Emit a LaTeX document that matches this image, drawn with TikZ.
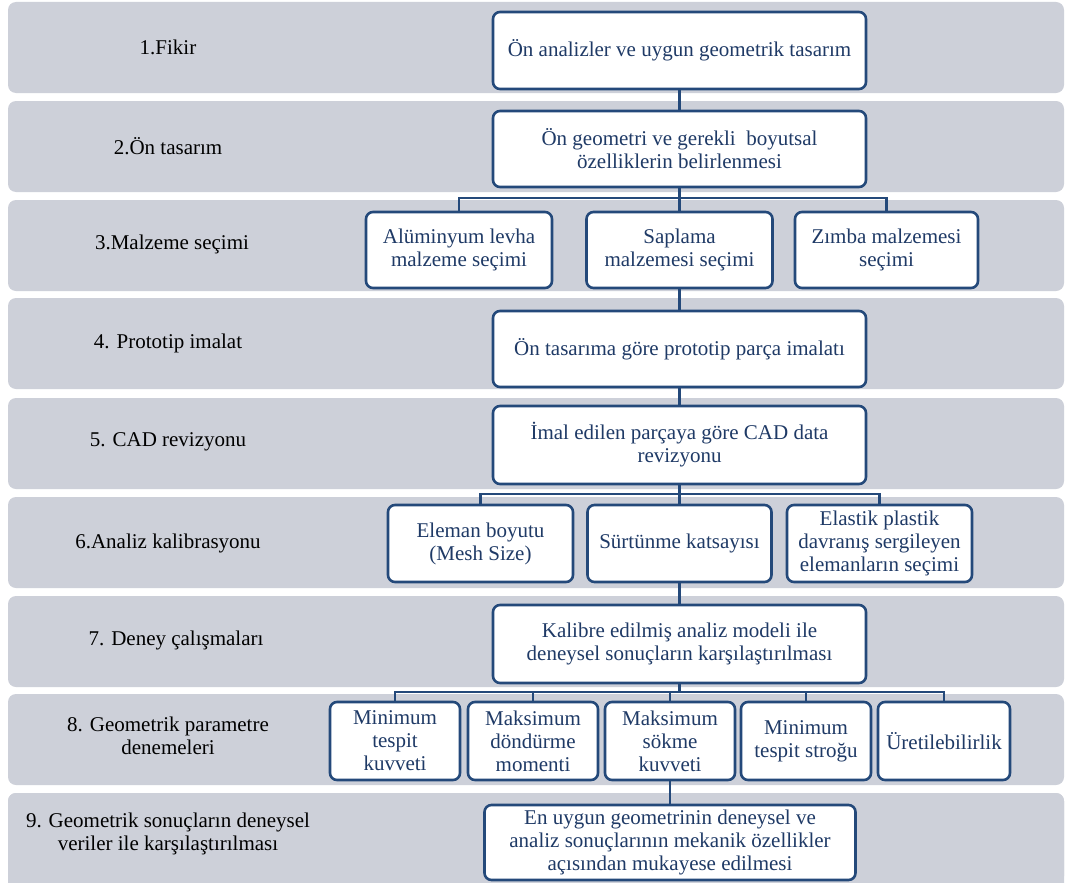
\documentclass[tikz,border=0pt]{standalone}
\usepackage{fontspec}
\setmainfont{Liberation Serif}
\definecolor{bandgray}{HTML}{CDD0D9}
\definecolor{boxblue}{HTML}{24497A}
\definecolor{boxtext}{HTML}{1F3A66}
\tikzset{
  band/.style={fill=bandgray, rounded corners=8pt},
  stage/.style={font=\fontsize{21}{23}\selectfont, align=center, text=black},
  boxnode/.style={draw=boxblue, line width=2.6pt, fill=white, rounded corners=7pt,
    align=center, text=boxtext, inner sep=0pt, font=\fontsize{21}{23}\selectfont},
  link/.style={draw=boxblue, line width=2.6pt},
}
\begin{document}
\begin{tikzpicture}[x=1pt, y=-1pt]
    \clip (0,0) rectangle (1065,883);
    \fill[white] (0,0) rectangle (1065,883);

    % stage bands
    \foreach \top in {2,101,200,298,398,497,596,694,793}
      \path[band] (8,\top) rectangle (1064,\top+91);
    \path[band] (8,793) rectangle (1064,900);

    % stage names
    \node[stage] (s1) at (168,47) {1.Fikir};
    \node[stage] (s2) at (168,146) {2.Ön tasarım};
    \node[stage] (s3) at (172,244) {3.Malzeme seçimi};
    \node[stage] (s4) at (168,343) {4. Prototip imalat};
    \node[stage] (s5) at (168,442) {5. CAD revizyonu};
    \node[stage] (s6) at (168,543) {6.Analiz kalibrasyonu};
    \node[stage] (s7) at (176,640) {7. Deney çalışmaları};
    \node[stage] (s8) at (168,736) {8. Geometrik parametre\\denemeleri};
    \node[stage] (s9) at (168,834) {9. Geometrik sonuçların deneysel\\veriler ile karşılaştırılması};

    % main column
    \node[boxnode, minimum width=373, minimum height=77] (idea) at (679.5,50.5)
      {Ön analizler ve uygun geometrik tasarım};
    \node[boxnode, minimum width=373, minimum height=76] (predesign) at (679.5,149)
      {Ön geometri ve gerekli\ \ boyutsal\\özelliklerin belirlenmesi};

    % material choice
    \node[boxnode, minimum width=186, minimum height=76] (alu) at (459,250)
      {Alüminyum levha\\malzeme seçimi};
    \node[boxnode, minimum width=186, minimum height=76] (stud) at (679.5,250)
      {Saplama\\malzemesi seçimi};
    \node[boxnode, minimum width=183, minimum height=76] (punch) at (886.5,250)
      {Zımba malzemesi\\seçimi};

    \node[boxnode, minimum width=373, minimum height=76] (proto) at (679.5,349)
      {Ön tasarıma göre prototip parça imalatı};
    \node[boxnode, minimum width=373, minimum height=78] (cad) at (679.5,445)
      {İmal edilen parçaya göre CAD data\\revizyonu};

    % calibration
    \node[boxnode, minimum width=185, minimum height=77] (mesh) at (480.5,543.5)
      {Eleman boyutu\\(Mesh Size)};
    \node[boxnode, minimum width=184, minimum height=77] (friction) at (679.5,543.5)
      {Sürtünme katsayısı};
    \node[boxnode, minimum width=185, minimum height=77] (elastic) at (879.5,543.5)
      {Elastik plastik\\davranış sergileyen\\elemanların seçimi};

    \node[boxnode, minimum width=373, minimum height=78] (test) at (679.5,644)
      {Kalibre edilmiş analiz modeli ile\\deneysel sonuçların karşılaştırılması};

    % geometric parameters
    \node[boxnode, minimum width=130, minimum height=78] (p1) at (395,741)
      {Minimum\\tespit\\kuvveti};
    \node[boxnode, minimum width=130, minimum height=78] (p2) at (533,741)
      {Maksimum\\döndürme\\momenti};
    \node[boxnode, minimum width=130, minimum height=78] (p3) at (670,741)
      {Maksimum\\sökme\\kuvveti};
    \node[boxnode, minimum width=130, minimum height=78] (p4) at (806,741)
      {Minimum\\tespit stroğu};
    \node[boxnode, minimum width=132, minimum height=78] (p5) at (944,741)
      {Üretilebilirlik};

    \node[boxnode, minimum width=371, minimum height=75] (result) at (670,842.5)
      {En uygun geometrinin deneysel ve\\analiz sonuçlarının mekanik özellikler\\açısından mukayese edilmesi};

    % connectors
    \coordinate (j3) at (679.5,198);
    \coordinate (j6) at (679.5,494);
    \coordinate (j8) at (679.5,692);
    \begin{scope}[on background layer/.try]
    \draw[link] (idea.south) -- (predesign.north);
    \draw[link] (predesign.south) -- (stud.north);
    \draw[link] (alu.north) |- (j3) -| (punch.north);
    \draw[link] (stud.south) -- (proto.north);
    \draw[link] (proto.south) -- (cad.north);
    \draw[link] (cad.south) -- (friction.north);
    \draw[link] (mesh.north) |- (j6) -| (elastic.north);
    \draw[link] (friction.south) -- (test.north);
    \draw[link] (test.south) -- (j8);
    \draw[link] (p1.north) |- (j8) -| (p5.north);
    \foreach \p in {p2,p3,p4}
      \draw[link] (\p.north) -- (\p.north |- j8);
    \draw[link] (p3.south) -- (result.north);
    \end{scope}

\end{tikzpicture}
\end{document}
